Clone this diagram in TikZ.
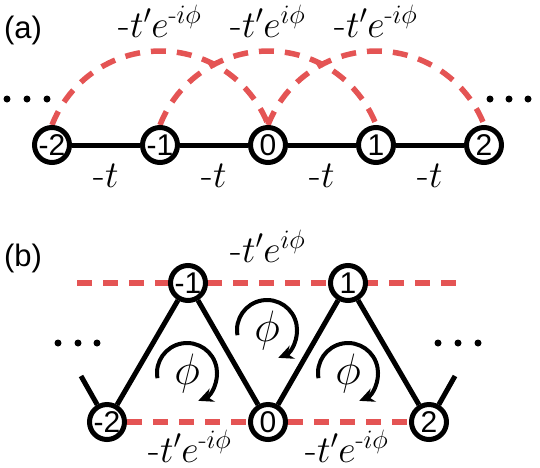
\RequirePackage{fix-cm}
\documentclass[tikz,border=0pt]{standalone}
\usepackage{fontspec}
\usepackage{amsmath}
\usetikzlibrary{arrows.meta}
\newfontfamily\arialf{Liberation Sans}
\definecolor{hopred}{RGB}{228,84,84}
\pgfdeclarelayer{background}
\pgfsetlayers{background,main}
\tikzset{
  site/.style={circle,draw=black,fill=white,line width=5pt,minimum size=35pt,inner sep=0pt,
    font=\arialf\fontsize{30}{30}\selectfont},
  bond/.style={line width=5pt,black},
  nnn/.style={line width=5.5pt,hopred,dash pattern=on 15pt off 11pt},
  lab/.style={font=\fontsize{38}{44}\selectfont,inner sep=0pt,anchor=base},
  fluxlab/.style={font=\fontsize{44}{50}\selectfont,inner sep=0pt},
  dotmark/.style={circle,fill=black,inner sep=0pt,minimum size=7pt},
  flux/.style={line width=4pt,-{Stealth[length=15pt,width=14pt]}},
  panel/.style={font=\arialf\fontsize{31}{31}\selectfont,inner sep=0pt}
}
\begin{document}
\begin{tikzpicture}[x=1pt,y=-1pt]
\useasboundingbox (0,0) rectangle (540,467);
% ---------------- panel (a)
\node[panel] (pa) at (23,30) {(a)};
\node[site] (am2) at (52,145) {-2};
\node[site] (am1) at (160,145) {-1};
\node[site] (a0) at (268,145) {0};
\node[site] (a1) at (376,145) {1};
\node[site] (a2) at (484,145) {2};
\begin{pgfonlayer}{background}
  \draw[bond] (am2) -- (am1) -- (a0) -- (a1) -- (a2);
  \draw[nnn] (am2.north) arc[start angle=158.75,end angle=21.25,radius=116pt];
  \draw[nnn] (am1.north) arc[start angle=158.75,end angle=21.25,radius=116pt];
  \draw[nnn] (a0.north) arc[start angle=158.75,end angle=21.25,radius=116pt];
\end{pgfonlayer}
\node[lab] (la1) at (160,37) {-$t'e^{\text{-}i\phi}$};
\node[lab] (la2) at (268,37) {-$t'e^{i\phi}$};
\node[lab] (la3) at (376,37) {-$t'e^{\text{-}i\phi}$};
\node[lab] (ta1) at (106,187) {-$t$};
\node[lab] (ta2) at (214,187) {-$t$};
\node[lab] (ta3) at (322,187) {-$t$};
\node[lab] (ta4) at (430,187) {-$t$};
\node[dotmark] (da1) at (7,99) {};
\node[dotmark] (da2) at (27,99) {};
\node[dotmark] (da3) at (47,99) {};
\node[dotmark] (da4) at (490,99) {};
\node[dotmark] (da5) at (509,99) {};
\node[dotmark] (da6) at (528,99) {};
% ---------------- panel (b)
\node[panel] (pb) at (23,258) {(b)};
\node[site] (bm2) at (107,422) {-2};
\node[site] (bm1) at (188,283) {-1};
\node[site] (b0) at (268,422) {0};
\node[site] (b1) at (348,283) {1};
\node[site] (b2) at (429,422) {2};
\coordinate (tl) at (77,283);
\coordinate (tr) at (460,283);
\coordinate (sl) at (81,376);
\coordinate (sr) at (455,376);
\begin{pgfonlayer}{background}
  \draw[nnn] (tl) -- (tr);
  \draw[nnn] (bm2) -- (b0);
  \draw[nnn] (b0) -- (b2);
  \draw[bond] (bm2) -- (bm1) -- (b0) -- (b1) -- (b2);
  \draw[bond] (bm2) -- (sl);
  \draw[bond] (b2) -- (sr);
\end{pgfonlayer}
\node[lab] (lb1) at (268,262) {-$t'e^{i\phi}$};
\node[lab] (lb2) at (190,462) {-$t'e^{\text{-}i\phi}$};
\node[lab] (lb3) at (347,462) {-$t'e^{\text{-}i\phi}$};
\node[fluxlab] (f1) at (187,373) {$\phi$};
\node[fluxlab] (f2) at (267,330) {$\phi$};
\node[fluxlab] (f3) at (348,373) {$\phi$};
\draw[flux] ([shift={(190:30pt)}]f1.center) arc[start angle=190,end angle=-68,radius=30pt];
\draw[flux] ([shift={(190:30pt)}]f2.center) arc[start angle=190,end angle=-68,radius=30pt];
\draw[flux] ([shift={(190:30pt)}]f3.center) arc[start angle=190,end angle=-68,radius=30pt];
\node[dotmark] (db1) at (58,343) {};
\node[dotmark] (db2) at (78,343) {};
\node[dotmark] (db3) at (97,343) {};
\node[dotmark] (db4) at (438,343) {};
\node[dotmark] (db5) at (458,343) {};
\node[dotmark] (db6) at (478,343) {};
\end{tikzpicture}
\end{document}
